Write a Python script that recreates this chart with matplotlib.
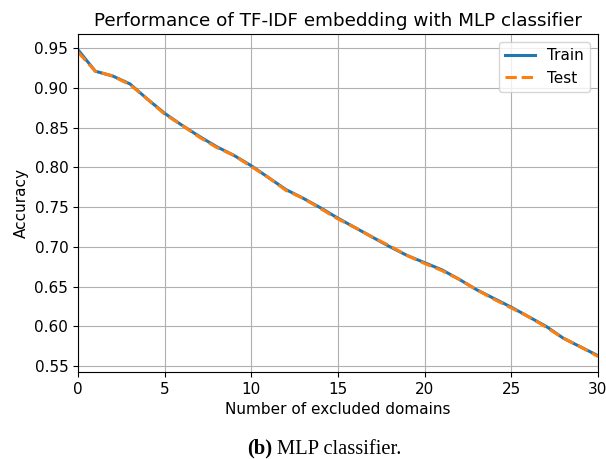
import matplotlib.pyplot as plt

# accuracy as domains are excluded one by one
n_excluded = list(range(31))
train_acc = [0.948, 0.921, 0.915, 0.905, 0.886, 0.868, 0.853, 0.839, 0.826, 0.815,
             0.802, 0.787, 0.772, 0.761, 0.749, 0.736, 0.724, 0.712, 0.700, 0.689,
             0.680, 0.671, 0.659, 0.646, 0.635, 0.624, 0.612, 0.600, 0.585, 0.574,
             0.563]
test_acc = [0.945, 0.921, 0.915, 0.904, 0.886, 0.867, 0.853, 0.838, 0.825, 0.815,
            0.801, 0.787, 0.771, 0.761, 0.748, 0.735, 0.724, 0.712, 0.701, 0.689,
            0.679, 0.670, 0.659, 0.646, 0.634, 0.623, 0.612, 0.599, 0.585, 0.574,
            0.562]

plt.rcParams['font.size'] = 11

fig = plt.figure(figsize=(6.06, 4.59), dpi=100)
ax = fig.add_axes([0.1287, 0.190, 0.858, 0.735])

ax.plot(n_excluded, train_acc, color='#1f77b4', lw=2.2, label='Train')
ax.plot(n_excluded, test_acc, color='#ff7f0e', lw=2.2, ls='--', label='Test')

ax.set_xlim(0, 30)
ax.set_yticks([0.55, 0.60, 0.65, 0.70, 0.75, 0.80, 0.85, 0.90, 0.95])
ax.grid(True)
ax.set_xlabel('Number of excluded domains')
ax.set_ylabel('Accuracy')
ax.set_title('Performance of TF-IDF embedding with MLP classifier', fontsize=13.2)
ax.legend(loc='upper right')

# figure caption underneath
fig.text(0.4076, 0.011, '(b)', fontsize=14.8, weight='bold', ha='left', va='baseline',
         family='Liberation Serif')
fig.text(0.457, 0.011, 'MLP classifier.', fontsize=14.8, ha='left', va='baseline',
         family='Liberation Serif')

fig.savefig('out.png', dpi=100)
